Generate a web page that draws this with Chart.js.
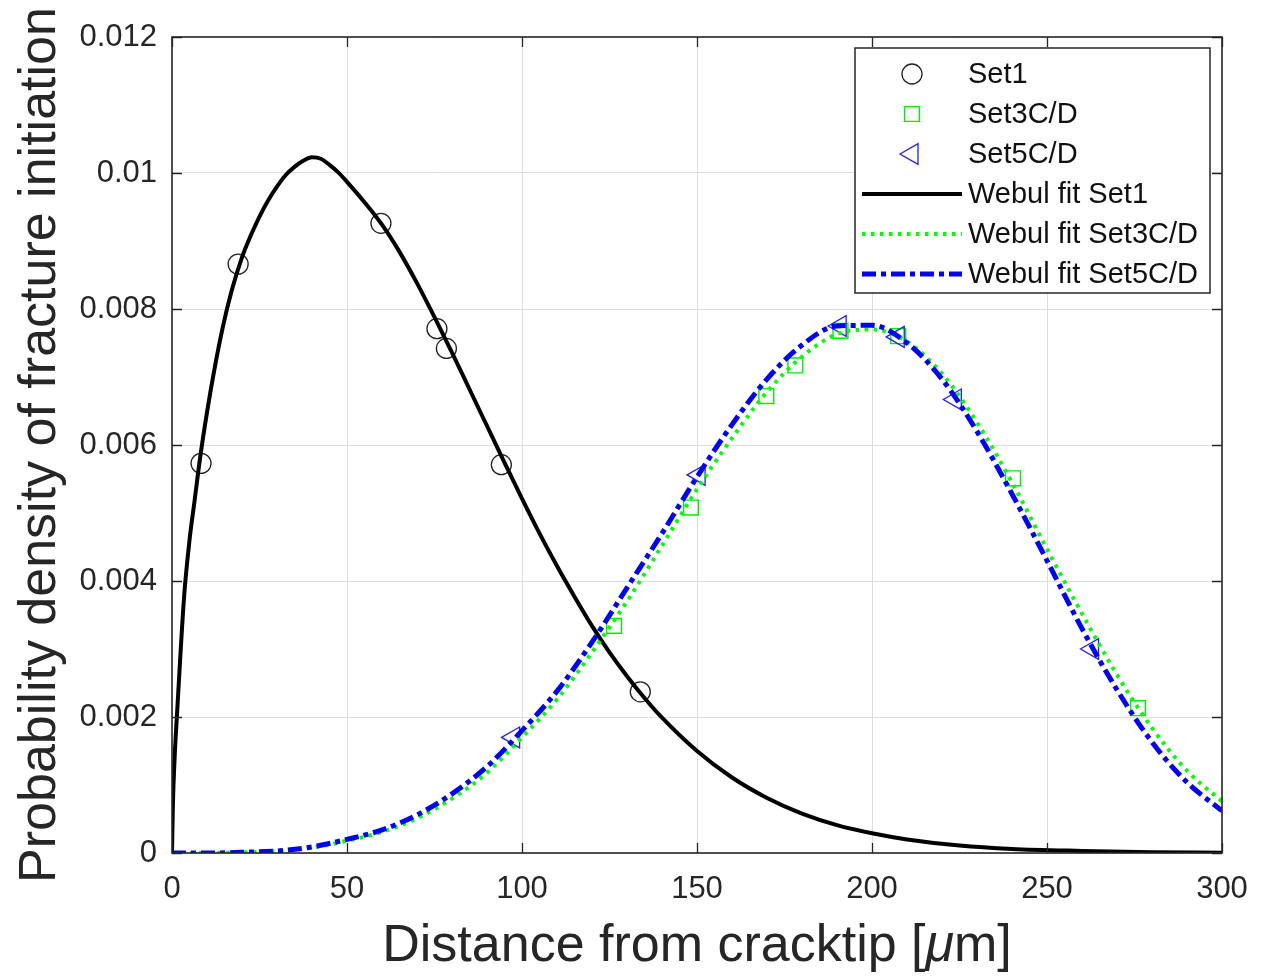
<!DOCTYPE html>
<html>

<head>
    <meta charset="UTF-8">
    <title>Probability density of fracture initiation</title>
    <script src="https://cdn.jsdelivr.net/npm/chart.js@4.4.0/dist/chart.umd.min.js"></script>
    <style>
        html, body { margin: 0; padding: 0; background: #ffffff; }
    </style>
</head>

<body>
    <canvas id="pdfChart" width="1278" height="978"></canvas>
    <script type="text/javascript">
        // measured points (distance in um, probability density)
        var set1X = [8.3, 18.9, 59.7, 75.7, 78.4, 94.1, 133.8];
        var set1Y = [0.00573, 0.00866, 0.00926, 0.00771, 0.00742, 0.00571, 0.00237];
        var set3X = [126.3, 148.3, 169.8, 178.1, 191.0, 207.5, 240.3, 276.0];
        var set3Y = [0.00334, 0.00508, 0.00672, 0.00717, 0.00768, 0.00760, 0.00551, 0.00213];
        var set5X = [97.6, 150.6, 190.9, 207.5, 223.8, 263.0];
        var set5Y = [0.00170, 0.00556, 0.00775, 0.00759, 0.00667, 0.00300];

        // fitted curves
        var fit1X = [0, 0.25, 0.75, 1.5, 2.5, 3.5, 5, 6.5, 8, 10, 12, 14.5, 17, 20, 22.5, 25, 27.5, 30, 32.5,
            35, 37.5, 40, 42.5, 45, 47.5, 50, 55, 60, 65, 70, 75, 80, 85, 90, 95, 100, 105, 110, 115, 120,
            125, 130, 135, 140, 150, 160, 170, 180, 190, 200, 210, 225, 240, 260, 280, 300];
        var fit1Y = [0, 0.0007, 0.0014, 0.0021, 0.0030, 0.0038, 0.0046, 0.0052, 0.0058, 0.00648, 0.00708,
            0.00773, 0.00826, 0.00876, 0.00908, 0.00936, 0.00960, 0.00980, 0.00997, 0.01009, 0.01018,
            0.01023, 0.01021, 0.01012, 0.01001, 0.00987, 0.00957, 0.00924, 0.00884, 0.00838, 0.00788,
            0.00736, 0.00682, 0.00628, 0.00574, 0.00521, 0.00470, 0.00422, 0.00377, 0.00334, 0.00295,
            0.00260, 0.00228, 0.00199, 0.00150, 0.00111, 0.00081, 0.00058, 0.00041, 0.00029, 0.00020,
            0.00011, 0.00006, 0.00003, 0.00001, 0.000005];
        var fitX = [0, 10, 20, 30, 40, 50, 60, 70, 80, 90, 100, 110, 120, 130, 140, 150, 160, 170, 180, 190,
            200, 210, 220, 230, 240, 250, 260, 270, 280, 290, 300];
        var fit3Y = [0, 0, 0.00001, 0.00003, 0.00008, 0.00018, 0.00031, 0.00051, 0.00080, 0.00118, 0.00170,
            0.00226, 0.00295, 0.00370, 0.00452, 0.00535, 0.00610, 0.00678, 0.00730, 0.00763, 0.00770,
            0.00752, 0.00705, 0.00633, 0.00545, 0.00447, 0.00352, 0.00262, 0.00184, 0.00121, 0.00076];
        var fit5Y = [0, 0, 0.00001, 0.00003, 0.00009, 0.00020, 0.00034, 0.00056, 0.00087, 0.00127, 0.00180,
            0.00238, 0.00310, 0.00390, 0.00470, 0.00553, 0.00630, 0.00697, 0.00747, 0.00775, 0.00776,
            0.00750, 0.00697, 0.00620, 0.00528, 0.00430, 0.00330, 0.00240, 0.00163, 0.00104, 0.00062];

        var xTicks = [0, 50, 100, 150, 200, 250, 300];
        var yTicks = [0, 0.002, 0.004, 0.006, 0.008, 0.010, 0.012];
        var yTickLabels = ["0", "0.002", "0.004", "0.006", "0.008", "0.01", "0.012"];
        var seriesNames = ["Set1", "Set3C/D", "Set5C/D", "Webul fit Set1", "Webul fit Set3C/D", "Webul fit Set5C/D"];
        var yTitle = "Probability density of fracture initiation";
        var xTitleParts = ["Distance from cracktip [", "\u03bc", "m]"];

        var FONT = '"Liberation Sans", Arial, Helvetica, sans-serif';
        var AXIS_COLOR = "#262626";

        function zip(xs, ys) {
            var out = [];
            for (var i = 0; i < xs.length; i++) {
                out.push({ x: xs[i], y: ys[i] });
            }
            return out;
        }

        // box round the axes with inward tick marks on all four sides
        var axesBox = {
            id: "axesBox",
            afterDatasetsDraw: function (chart) {
                var ctx = chart.ctx, a = chart.chartArea;
                var xs = chart.scales.x, ys = chart.scales.y;
                var len = 10;
                ctx.save();
                ctx.strokeStyle = AXIS_COLOR;
                ctx.lineWidth = 1.3;
                ctx.beginPath();
                xTicks.forEach(function (v) {
                    var px = Math.round(xs.getPixelForValue(v)) + 0.5;
                    ctx.moveTo(px, a.bottom); ctx.lineTo(px, a.bottom - len);
                    ctx.moveTo(px, a.top); ctx.lineTo(px, a.top + len);
                });
                yTicks.forEach(function (v) {
                    var py = Math.round(ys.getPixelForValue(v)) + 0.5;
                    ctx.moveTo(a.left, py); ctx.lineTo(a.left + len, py);
                    ctx.moveTo(a.right, py); ctx.lineTo(a.right - len, py);
                });
                ctx.stroke();
                ctx.lineWidth = 1.6;
                ctx.strokeRect(a.left, a.top, a.right - a.left, a.bottom - a.top);
                ctx.restore();
            }
        };

        // x axis title, the mu set in italics
        var xTitle = {
            id: "xTitle",
            afterDraw: function (chart) {
                var ctx = chart.ctx, a = chart.chartArea;
                var normal = "52px " + FONT, italic = "italic 52px " + FONT;
                var fonts = [normal, italic, normal];
                var widths = [], total = 0;
                ctx.save();
                xTitleParts.forEach(function (t, i) {
                    ctx.font = fonts[i];
                    widths.push(ctx.measureText(t).width);
                    total += widths[i];
                });
                var x = (a.left + a.right) / 2 - total / 2;
                ctx.fillStyle = AXIS_COLOR;
                ctx.textBaseline = "middle";
                ctx.textAlign = "left";
                xTitleParts.forEach(function (t, i) {
                    ctx.font = fonts[i];
                    ctx.fillText(t, x, a.bottom + 94);
                    x += widths[i];
                });
                ctx.restore();
            }
        };

        // legend in a box at the upper right of the axes
        var boxLegend = {
            id: "boxLegend",
            afterDraw: function (chart) {
                var ctx = chart.ctx, a = chart.chartArea;
                var w = 355, h = 245;
                var x0 = a.right - 12 - w, y0 = a.top + 11;
                ctx.save();
                ctx.fillStyle = "#ffffff";
                ctx.fillRect(x0, y0, w, h);
                ctx.strokeStyle = AXIS_COLOR;
                ctx.lineWidth = 1.5;
                ctx.strokeRect(x0, y0, w, h);
                chart.data.datasets.forEach(function (ds, i) {
                    var cy = y0 + 26 + i * 40;
                    var sx = x0 + 7, ex = x0 + 107;
                    ctx.save();
                    if (ds.showLine) {
                        ctx.beginPath();
                        ctx.setLineDash(ds.borderDash || []);
                        ctx.lineCap = "butt";
                        ctx.lineWidth = ds.borderWidth;
                        ctx.strokeStyle = ds.borderColor;
                        ctx.moveTo(sx, cy);
                        ctx.lineTo(ex, cy);
                        ctx.stroke();
                    } else {
                        ctx.lineWidth = ds.pointBorderWidth;
                        ctx.strokeStyle = ds.pointBorderColor;
                        ctx.fillStyle = "rgba(0,0,0,0)";
                        Chart.helpers.drawPoint(ctx, {
                            pointStyle: ds.pointStyle,
                            rotation: ds.pointRotation || 0,
                            radius: ds.pointRadius,
                            borderWidth: ds.pointBorderWidth
                        }, (sx + ex) / 2, cy);
                    }
                    ctx.restore();
                    ctx.fillStyle = "#111111";
                    ctx.font = "29px " + FONT;
                    ctx.textBaseline = "middle";
                    ctx.fillText(ds.label, x0 + 113, cy + 1);
                });
                ctx.restore();
            }
        };

        new Chart("pdfChart", {
            type: "scatter",
            data: {
                datasets: [
                    {
                        label: seriesNames[0], data: zip(set1X, set1Y), order: 6,
                        pointStyle: "circle", pointRadius: 10, pointBorderWidth: 1.3,
                        pointBorderColor: "#222222", pointBackgroundColor: "rgba(0,0,0,0)"
                    },
                    {
                        label: seriesNames[1], data: zip(set3X, set3Y), order: 5,
                        pointStyle: "rect", pointRadius: 10.5, pointBorderWidth: 1.4,
                        pointBorderColor: "#00ee00", pointBackgroundColor: "rgba(0,0,0,0)"
                    },
                    {
                        label: seriesNames[2], data: zip(set5X, set5Y), order: 4,
                        pointStyle: "triangle", pointRotation: -90, pointRadius: 12, pointBorderWidth: 1.3,
                        pointBorderColor: "#2020ff", pointBackgroundColor: "rgba(0,0,0,0)"
                    },
                    {
                        label: seriesNames[3], data: zip(fit1X, fit1Y), order: 3,
                        showLine: true, pointRadius: 0, borderColor: "#000000", borderWidth: 4,
                        cubicInterpolationMode: "monotone"
                    },
                    {
                        label: seriesNames[4], data: zip(fitX, fit3Y), order: 2,
                        showLine: true, pointRadius: 0, borderColor: "#00ff00", borderWidth: 4,
                        borderDash: [3.5, 5.5], cubicInterpolationMode: "monotone"
                    },
                    {
                        label: seriesNames[5], data: zip(fitX, fit5Y), order: 1,
                        showLine: true, pointRadius: 0, borderColor: "#0000ff", borderWidth: 5,
                        borderDash: [14, 5, 5, 5], cubicInterpolationMode: "monotone"
                    }
                ]
            },
            options: {
                responsive: false,
                animation: false,
                events: [],
                devicePixelRatio: 1,
                layout: { padding: { left: 0, right: 56, top: 37, bottom: 0 } },
                plugins: {
                    legend: { display: false },
                    tooltip: { enabled: false }
                },
                scales: {
                    x: {
                        type: "linear", min: 0, max: 300,
                        afterBuildTicks: function (scale) {
                            scale.ticks = xTicks.map(function (v) { return { value: v }; });
                        },
                        afterFit: function (scale) { scale.height = 125; },
                        grid: { color: "#dedede", lineWidth: 1, drawTicks: false },
                        border: { display: false },
                        ticks: {
                            padding: 18, color: AXIS_COLOR, maxRotation: 0,
                            font: { family: FONT, size: 31 },
                            callback: function (v) { return String(v); }
                        }
                    },
                    y: {
                        type: "linear", min: 0, max: 0.012,
                        afterBuildTicks: function (scale) {
                            scale.ticks = yTicks.map(function (v) { return { value: v }; });
                        },
                        afterFit: function (scale) { scale.width = 172; },
                        grid: { color: "#dedede", lineWidth: 1, drawTicks: false },
                        border: { display: false },
                        title: {
                            display: true, text: yTitle, color: AXIS_COLOR,
                            font: { family: FONT, size: 52 }, padding: { top: 9, bottom: 0 }
                        },
                        ticks: {
                            padding: 15, color: AXIS_COLOR,
                            font: { family: FONT, size: 31 },
                            callback: function (v, i) { return yTickLabels[i]; }
                        }
                    }
                }
            },
            plugins: [axesBox, xTitle, boxLegend]
        });
    </script>
</body>

</html>
